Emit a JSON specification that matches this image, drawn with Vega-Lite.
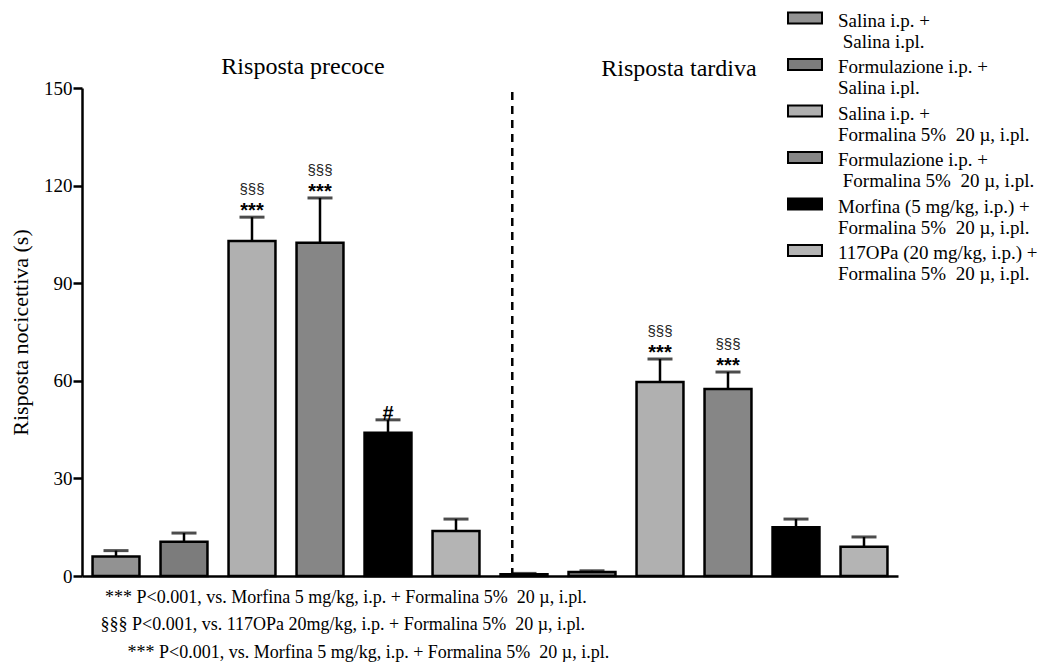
{
  "$schema": "https://vega.github.io/schema/vega-lite/v6.json",
  "width": 816,
  "height": 488,
  "autosize": "none",
  "padding": {"left": 82, "top": 88, "right": 152, "bottom": 87},
  "background": "white",
  "config": {"view": {"stroke": null}, "font": "Liberation Serif, Times New Roman, Tinos, serif"},
  "datasets": {
    "bars": [
      {"id": "P1", "treatment": "Salina i.p. +|\u200b\u00a0Salina i.pl.", "value": 6, "err": 7.8, "star": "", "sect": ""},
      {"id": "P2", "treatment": "Formulazione i.p. +|Salina i.pl.", "value": 10.5, "err": 13.2, "star": "", "sect": ""},
      {"id": "P3", "treatment": "Salina i.p. +|Formalina 5%\u00a0 20 µ, i.pl.", "value": 103, "err": 110.3, "star": "***", "sect": "§§§"},
      {"id": "P4", "treatment": "Formulazione i.p. +|\u200b\u00a0Formalina 5%\u00a0 20 µ, i.pl.", "value": 102.4, "err": 116.2, "star": "***", "sect": "§§§"},
      {"id": "P5", "treatment": "Morfina (5 mg/kg, i.p.) +|Formalina 5%\u00a0 20 µ, i.pl.", "value": 44, "err": 48, "star": "#", "sect": ""},
      {"id": "P6", "treatment": "117OPa (20 mg/kg, i.p.) +|Formalina 5%\u00a0 20 µ, i.pl.", "value": 13.8, "err": 17.5, "star": "", "sect": ""},
      {"id": "T1", "treatment": "Salina i.p. +|\u200b\u00a0Salina i.pl.", "value": 0.5, "err": 0.8, "star": "", "sect": ""},
      {"id": "T2", "treatment": "Formulazione i.p. +|Salina i.pl.", "value": 1.2, "err": 1.6, "star": "", "sect": ""},
      {"id": "T3", "treatment": "Salina i.p. +|Formalina 5%\u00a0 20 µ, i.pl.", "value": 59.6, "err": 66.7, "star": "***", "sect": "§§§"},
      {"id": "T4", "treatment": "Formulazione i.p. +|\u200b\u00a0Formalina 5%\u00a0 20 µ, i.pl.", "value": 57.5, "err": 62.7, "star": "***", "sect": "§§§"},
      {"id": "T5", "treatment": "Morfina (5 mg/kg, i.p.) +|Formalina 5%\u00a0 20 µ, i.pl.", "value": 15, "err": 17.5, "star": "", "sect": ""},
      {"id": "T6", "treatment": "117OPa (20 mg/kg, i.p.) +|Formalina 5%\u00a0 20 µ, i.pl.", "value": 9, "err": 12, "star": "", "sect": ""}
    ]
  },
  "encoding": {
    "x": {
      "field": "id",
      "type": "nominal",
      "sort": null,
      "scale": {"type": "band", "paddingInner": 0.31, "paddingOuter": 0.155},
      "axis": {
        "title": [
          "\u200b\u00a0*** P<0.001, vs. Morfina 5 mg/kg, i.p. + Formalina 5%\u00a0 20 µ, i.pl.",
          "§§§ P<0.001, vs. 117OPa 20mg/kg, i.p. + Formalina 5%\u00a0 20 µ, i.pl.",
          "\u200b\u00a0\u00a0\u00a0\u00a0\u00a0\u00a0*** P<0.001, vs. Morfina 5 mg/kg, i.p. + Formalina 5%\u00a0 20 µ, i.pl."
        ],
        "labels": false,
        "ticks": false,
        "domainColor": "black",
        "domainWidth": 2.5,
        "titleFont": "Liberation Serif, Times New Roman, Tinos, serif",
        "titleFontSize": 18,
        "titleFontWeight": "normal",
        "titleColor": "black",
        "titleAnchor": "start",
        "titleAlign": "left",
        "titleBaseline": "alphabetic",
        "titleX": 18,
        "titleY": 26,
        "titleLineHeight": 27.5,
        "titleLimit": 900
      }
    }
  },
  "layer": [
    {
      "data": {"name": "bars"},
      "mark": {"type": "bar", "stroke": "black", "strokeWidth": 2.5},
      "encoding": {
        "y": {
          "field": "value",
          "type": "quantitative",
          "scale": {"domain": [0, 150], "nice": false},
          "axis": {
            "title": "Risposta nocicettiva (s)",
            "values": [0, 30, 60, 90, 120, 150],
            "grid": false,
            "domainColor": "black",
            "domainWidth": 2.5,
            "tickColor": "black",
            "tickWidth": 2.5,
            "tickSize": 9,
            "labelFont": "Liberation Serif, Times New Roman, Tinos, serif",
            "labelFontSize": 19,
            "labelColor": "black",
            "labelPadding": 1,
            "titleFont": "Liberation Serif, Times New Roman, Tinos, serif",
            "titleFontSize": 22,
            "titleFontWeight": "normal",
            "titleColor": "black",
            "titlePadding": 11
          }
        },
        "fill": {
          "field": "treatment",
          "type": "nominal",
          "scale": {
            "domain": [
              "Salina i.p. +|\u200b\u00a0Salina i.pl.",
              "Formulazione i.p. +|Salina i.pl.",
              "Salina i.p. +|Formalina 5%\u00a0 20 µ, i.pl.",
              "Formulazione i.p. +|\u200b\u00a0Formalina 5%\u00a0 20 µ, i.pl.",
              "Morfina (5 mg/kg, i.p.) +|Formalina 5%\u00a0 20 µ, i.pl.",
              "117OPa (20 mg/kg, i.p.) +|Formalina 5%\u00a0 20 µ, i.pl."
            ],
            "range": ["#929292", "#7c7c7c", "#b0b0b0", "#868686", "#000000", "#b4b4b4"]
          },
          "legend": {
            "title": null,
            "orient": "none",
            "legendX": 713.5,
            "legendY": -77,
            "padding": 0,
            "rowPadding": 2.5,
            "labelExpr": "split(datum.label, '|')",
            "labelFont": "Liberation Serif, Times New Roman, Tinos, serif",
            "labelFontSize": 19,
            "labelColor": "black",
            "labelLimit": 300,
            "labelOffset": 23.5,
            "labelBaseline": "middle",
            "symbolType": "M-2,-0.94H2V0.35H-2Z",
            "symbolSize": 289,
            "symbolStrokeColor": "black",
            "symbolStrokeWidth": 2,
            "encode": {"labels": {"update": {"lineHeight": {"value": 21}}}}
          }
        }
      }
    },
    {
      "data": {"name": "bars"},
      "mark": {"type": "rule", "color": "black", "strokeWidth": 2.5},
      "encoding": {
        "y": {"field": "value", "type": "quantitative"},
        "y2": {"field": "err"}
      }
    },
    {
      "data": {"name": "bars"},
      "mark": {"type": "tick", "color": "black", "thickness": 3, "size": 25},
      "encoding": {"y": {"field": "err", "type": "quantitative"}}
    },
    {
      "data": {"name": "bars"},
      "mark": {"type": "text", "font": "Liberation Sans, Arial, sans-serif", "fontSize": 15, "color": "#222222", "baseline": "alphabetic", "dy": -23},
      "encoding": {
        "y": {"field": "err", "type": "quantitative"},
        "text": {"field": "sect"}
      }
    },
    {
      "data": {"name": "bars"},
      "mark": {"type": "text", "font": "Liberation Sans, Arial, sans-serif", "fontSize": 20, "fontWeight": "bold", "color": "black", "baseline": "alphabetic", "dy": 0},
      "encoding": {
        "y": {"field": "err", "type": "quantitative"},
        "text": {"field": "star"}
      }
    },
    {
      "data": {"values": [{"id": "T1"}]},
      "mark": {"type": "rule", "color": "black", "strokeWidth": 2.5, "strokeDash": [8, 6]},
      "encoding": {
        "x": {"field": "id", "type": "nominal", "bandPosition": 0.25},
        "y": {"datum": 0, "type": "quantitative"},
        "y2": {"datum": 150}
      }
    },
    {
      "data": {"values": [{"id": "P4", "label": "Risposta precoce"}]},
      "mark": {"type": "text", "font": "Liberation Serif, Times New Roman, Tinos, serif", "fontSize": 24, "color": "black", "baseline": "alphabetic", "dx": -17},
      "encoding": {
        "y": {"datum": 154.2, "type": "quantitative"},
        "text": {"field": "label"}
      }
    },
    {
      "data": {"values": [{"id": "T3", "label": "Risposta tardiva"}]},
      "mark": {"type": "text", "font": "Liberation Serif, Times New Roman, Tinos, serif", "fontSize": 24, "color": "black", "baseline": "alphabetic", "dx": 19},
      "encoding": {
        "y": {"datum": 153.6, "type": "quantitative"},
        "text": {"field": "label"}
      }
    }
  ]
}
